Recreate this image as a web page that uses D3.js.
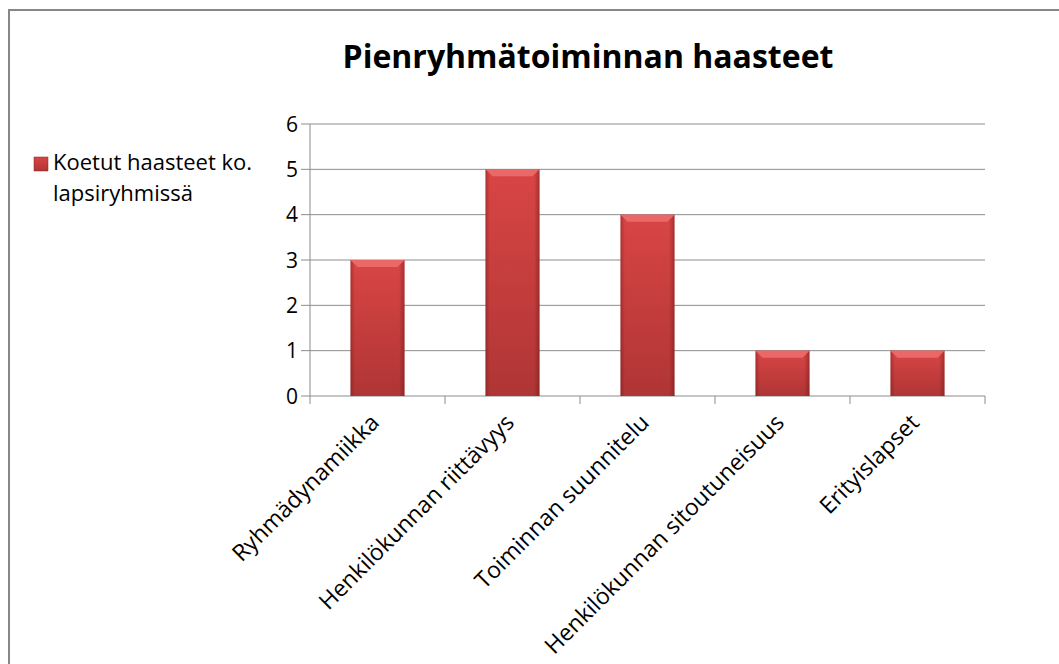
<!DOCTYPE html>
<html>
<head>
<meta charset="utf-8">
<script src="https://cdn.jsdelivr.net/npm/d3@7"></script>
<style>
  body { margin: 0; background: #fff; }
  svg text { font-family: "Open Sans", "Liberation Sans", sans-serif; fill: #000; }
</style>
</head>
<body>
<div id="chart"></div>
<script>
var categories = ["Ryhmädynamiikka", "Henkilökunnan riittävyys", "Toiminnan suunnitelu",
                  "Henkilökunnan sitoutuneisuus", "Erityislapset"];
var values = [3, 5, 4, 1, 1];
var yTicks = [0, 1, 2, 3, 4, 5, 6];
var seriesName = ["Koetut haasteet ko.", "lapsiryhmissä"];
var title = "Pienryhmätoiminnan haasteet";

var width = 1059, height = 664;
var plot = { left: 310, right: 985, top: 124, bottom: 396 };

var svg = d3.select("#chart").append("svg")
    .attr("width", width)
    .attr("height", height);

var defs = svg.append("defs");

// bar body: lighter on top, darker near the base
var body = defs.append("linearGradient").attr("id", "barBody")
    .attr("x1", 0).attr("y1", 0).attr("x2", 0).attr("y2", 1);
body.append("stop").attr("offset", "0%").attr("stop-color", "#d94545");
body.append("stop").attr("offset", "100%").attr("stop-color", "#b03535");

// side shading so the bar looks a bit rounded
var side = defs.append("linearGradient").attr("id", "barSide")
    .attr("x1", 0).attr("y1", 0).attr("x2", 1).attr("y2", 0);
side.append("stop").attr("offset", "0%").attr("stop-color", "#5a0f10").attr("stop-opacity", 0.35);
side.append("stop").attr("offset", "8%").attr("stop-color", "#5a0f10").attr("stop-opacity", 0);
side.append("stop").attr("offset", "90%").attr("stop-color", "#5a0f10").attr("stop-opacity", 0);
side.append("stop").attr("offset", "100%").attr("stop-color", "#5a0f10").attr("stop-opacity", 0.4);

// outer frame
svg.append("rect")
    .attr("x", 9).attr("y", 10)
    .attr("width", width + 20).attr("height", height + 20)
    .attr("fill", "none")
    .attr("stroke", "#878787")
    .attr("stroke-width", 2);

var x = d3.scaleBand()
    .domain(categories)
    .range([plot.left, plot.right])
    .paddingInner(0.6)
    .paddingOuter(0.3);

var xBand = d3.scaleBand()
    .domain(categories)
    .range([plot.left, plot.right]);

var y = d3.scaleLinear()
    .domain([0, 6])
    .range([plot.bottom, plot.top]);

// gridlines
svg.append("g").selectAll("line")
    .data(yTicks)
    .enter().append("line")
    .attr("x1", plot.left - 9)
    .attr("x2", plot.right)
    .attr("y1", function(d) { return y(d); })
    .attr("y2", function(d) { return y(d); })
    .attr("stroke", "#8c8c8c")
    .attr("stroke-width", 1);

// y axis line
svg.append("line")
    .attr("x1", plot.left).attr("x2", plot.left)
    .attr("y1", plot.top).attr("y2", plot.bottom)
    .attr("stroke", "#8c8c8c");

// y labels
svg.append("g").selectAll("text")
    .data(yTicks)
    .enter().append("text")
    .attr("x", plot.left - 12)
    .attr("y", function(d) { return y(d); })
    .attr("dy", "0.36em")
    .attr("text-anchor", "end")
    .style("font-size", "21px")
    .text(function(d) { return d; });

// x ticks at band boundaries
var bounds = categories.map(function(c) { return xBand(c); }).concat([plot.right]);
svg.append("g").selectAll("line")
    .data(bounds)
    .enter().append("line")
    .attr("x1", function(d) { return d; })
    .attr("x2", function(d) { return d; })
    .attr("y1", plot.bottom)
    .attr("y2", plot.bottom + 8)
    .attr("stroke", "#8c8c8c");

// bars
var bars = svg.append("g").selectAll("g")
    .data(values)
    .enter().append("g");

bars.append("rect")
    .attr("x", function(d, i) { return x(categories[i]); })
    .attr("y", function(d) { return y(d); })
    .attr("width", x.bandwidth())
    .attr("height", function(d) { return y(0) - y(d); })
    .attr("fill", "url(#barBody)");

bars.append("rect")
    .attr("x", function(d, i) { return x(categories[i]); })
    .attr("y", function(d) { return y(d); })
    .attr("width", x.bandwidth())
    .attr("height", function(d) { return y(0) - y(d); })
    .attr("fill", "url(#barSide)");

// top bevel
bars.append("path")
    .attr("d", function(d, i) {
      var x0 = x(categories[i]), x1 = x0 + x.bandwidth(), t = y(d), b = 7;
      return "M" + x0 + "," + t + "L" + x1 + "," + t + "L" + (x1 - b) + "," + (t + b) +
             "L" + (x0 + b) + "," + (t + b) + "Z";
    })
    .attr("fill", "#ea6868");

// x labels, rotated
svg.append("g").selectAll("text")
    .data(categories)
    .enter().append("text")
    .attr("transform", function(d) {
      return "translate(" + (xBand(d) + xBand.bandwidth() / 2 + 3) + "," + (plot.bottom + 28) + ") rotate(-45)";
    })
    .attr("text-anchor", "end")
    .style("font-size", "23px")
    .text(function(d) { return d; });

// title
svg.append("text")
    .attr("x", 588)
    .attr("y", 68)
    .attr("text-anchor", "middle")
    .style("font-size", "32px")
    .style("font-weight", "bold")
    .text(title);

// legend
svg.append("rect")
    .attr("x", 34).attr("y", 157)
    .attr("width", 14).attr("height", 14)
    .attr("fill", "url(#barBody)")
    .attr("stroke", "#8a2020").attr("stroke-width", 0.5);

svg.append("g").selectAll("text")
    .data(seriesName)
    .enter().append("text")
    .attr("x", 53)
    .attr("y", function(d, i) { return 170 + i * 31; })
    .style("font-size", "22px")
    .text(function(d) { return d; });
</script>
</body>
</html>
